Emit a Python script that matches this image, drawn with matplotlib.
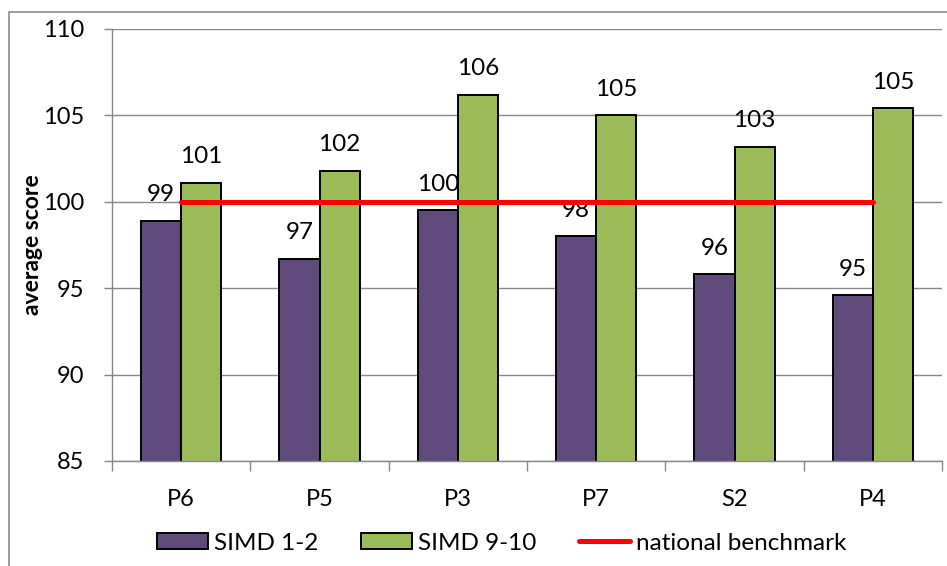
import matplotlib
matplotlib.use("Agg")
import matplotlib.pyplot as plt
import numpy as np
from matplotlib.patches import Rectangle

plt.rcParams['font.family'] = ['Lato', 'DejaVu Sans']

categories = ["P6", "P5", "P3", "P7", "S2", "P4"]
simd_low = [98.9, 96.7, 99.5, 98.0, 95.8, 94.6]
simd_high = [101.1, 101.8, 106.2, 105.0, 103.2, 105.4]
benchmark = [100, 100, 100, 100, 100, 100]
y_ticks = [85, 90, 95, 100, 105, 110]

PURPLE = "#604A7B"
GREEN = "#9BBB59"
GRID = "#878787"

fig = plt.figure(figsize=(9.47, 5.66), dpi=100)
ax = fig.add_axes([112 / 947, 1 - 461 / 566, 830 / 947, 432 / 566])

x = np.arange(len(categories))
w = 0.29

ax.set_axisbelow(True)
ax.yaxis.grid(True, color=GRID, linewidth=1.0)

b1 = ax.bar(x - w / 2, simd_low, w, color=PURPLE,
            edgecolor="black", linewidth=1.4, label="SIMD 1-2")
b2 = ax.bar(x + w / 2, simd_high, w, color=GREEN,
            edgecolor="black", linewidth=1.4, label="SIMD 9-10")
ln, = ax.plot(x, benchmark, color="#FF0000", linewidth=3.6,
              solid_capstyle="round", label="national benchmark", zorder=4)

for xs, vals in ((x - w / 2, simd_low), (x + w / 2, simd_high)):
    for xi, v in zip(xs, vals):
        ax.annotate(f"{v:.0f}", (xi, v), xytext=(0, 14), textcoords="offset points",
                    ha="center", va="baseline", fontsize=17.5, color="black")

ax.set_ylim(85, 110)
ax.set_xlim(-0.5, len(categories) - 0.5)
ax.set_yticks(y_ticks)
ax.set_yticklabels([str(t) for t in y_ticks])
ax.set_xticks(x)
ax.set_xticklabels(categories)
ax.set_xticks(np.arange(len(categories) + 1) - 0.5, minor=True)

ax.tick_params(axis="y", direction="out", length=6, width=1, color=GRID,
               labelsize=17, pad=14)
ax.tick_params(axis="x", which="major", length=0, labelsize=17, pad=20)
ax.tick_params(axis="x", which="minor", direction="out", length=7, width=1,
               color=GRID)

for side in ("top", "right"):
    ax.spines[side].set_visible(False)
for side in ("left", "bottom"):
    ax.spines[side].set_color(GRID)
    ax.spines[side].set_linewidth(1.0)

ax.set_ylabel("average score", fontsize=16.5, fontweight="bold")
ax.yaxis.set_label_coords(-0.083, 0.5)

leg = ax.legend(handles=[b1, b2, ln], loc="center", ncol=3,
                bbox_to_anchor=((502 - 112) / 830, (461 - 543) / 432),
                frameon=False, fontsize=17.5, handlelength=2.1,
                handleheight=0.6, handletextpad=0.25, columnspacing=1.75,
                borderaxespad=0)

# chart area frame
fig.patches.append(Rectangle((9 / 947, -0.05), 1.0, 1 - 12 / 566 + 0.05,
                             transform=fig.transFigure, fill=False,
                             edgecolor="#8C8C8C", linewidth=1.2))

fig.savefig("out.png", dpi=100)
